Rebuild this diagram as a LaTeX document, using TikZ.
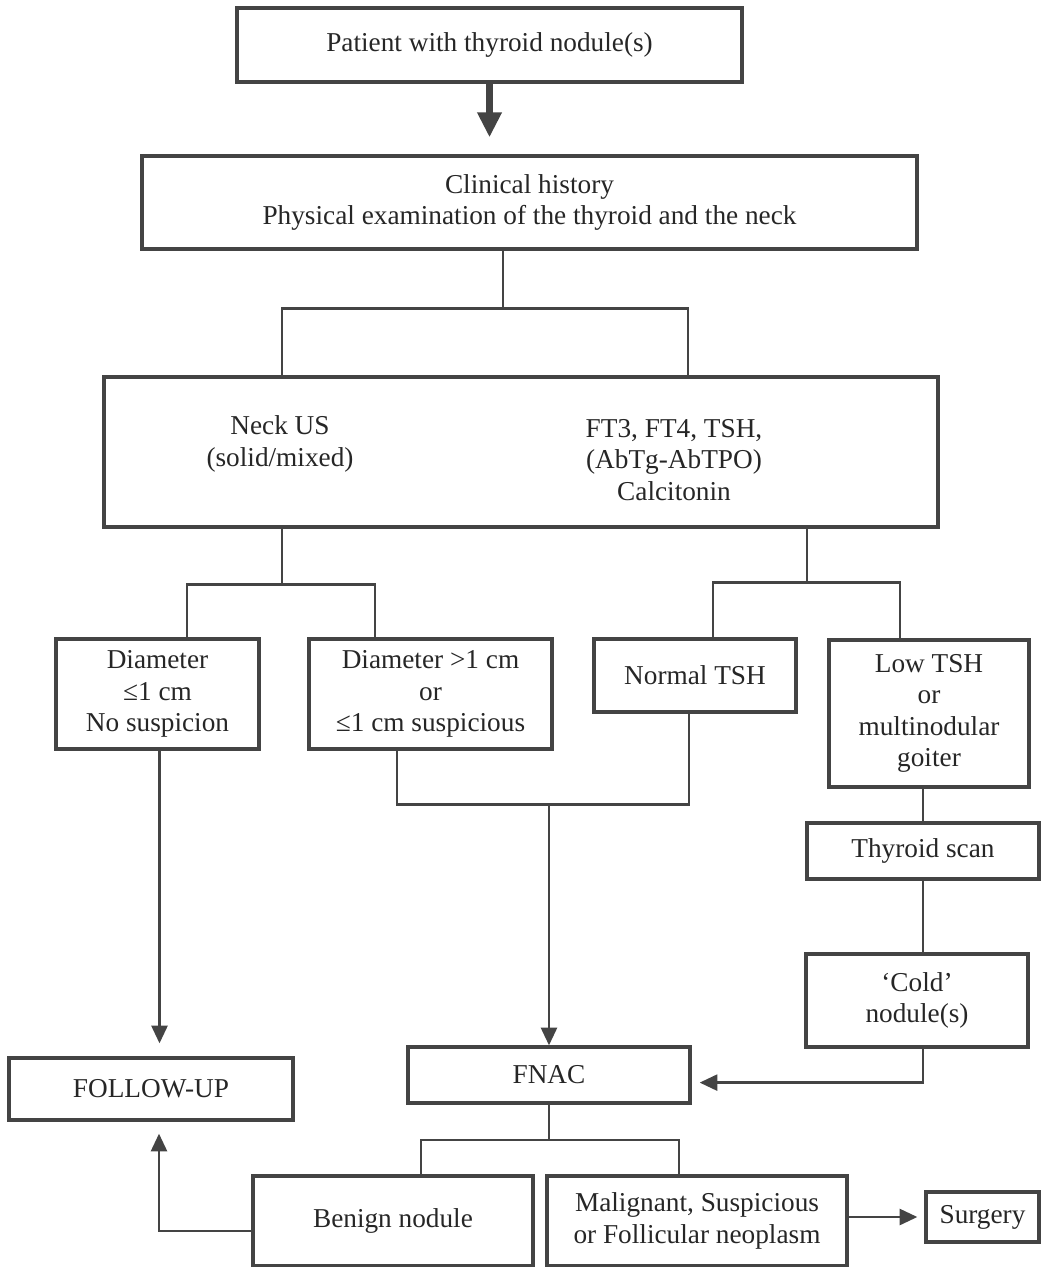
\documentclass[tikz,border=0pt]{standalone}
\usepackage{fontspec}
\setmainfont{Liberation Serif}
\usetikzlibrary{positioning,arrows.meta}
\definecolor{ink}{HTML}{444444}
\definecolor{txt}{HTML}{262626}

\begin{document}
\begin{tikzpicture}[blk/.style={draw=ink,line width=2.4pt,inner sep=0pt,align=center,text=txt,font=\fontsize{19.4}{22.4}\selectfont},
	lbl/.style={align=center,text=txt,inner sep=0pt,font=\fontsize{19.4}{22.4}\selectfont},
	link/.style={draw=ink,line width=1.7pt},
	arr/.style={link,-{Triangle[length=0.44cm,width=0.4cm]}}]

	\useasboundingbox (0,0) rectangle (26,-31.675);

	\node[blk,minimum width=12.625cm,minimum height=1.85cm] (patient) at (12.2375,-1.125) {Patient with thyroid nodule(s)};
	\node[blk,minimum width=19.375cm,minimum height=2.325cm] (history) [below of=patient, node distance=3.9375cm, xshift=1cm] {Clinical history\\Physical examination of the thyroid and the neck};
	\draw[link,line width=5pt,-{Triangle[length=0.625cm,width=0.58cm]},shorten >=0.425cm] (patient.south) -- (patient.south |- history.north);

	\node[blk,minimum width=20.85cm,minimum height=3.75cm] (neck) [below of=history, node distance=6.2375cm, xshift=-0.2125cm] {};
	\node[lbl] (us) at ([xshift=-6.025cm,yshift=0.2cm]neck.center) {Neck US\\(solid/mixed)};
	\node[lbl] (lab) at ([xshift=3.825cm,yshift=-0.2cm]neck.center) {FT3, FT4, TSH,\\(AbTg-AbTPO)\\Calcitonin};
	\path ([xshift=-0.6625cm,yshift=-1.45cm]history.south) coordinate (split);
	\draw[link] ([xshift=-0.6625cm]history.south) -- (split);
	\draw[link] ([xshift=-5.975cm]neck.north) |- (split) -| ([xshift=4.175cm]neck.north);

	\node[blk,minimum width=5.075cm,minimum height=2.75cm] (small) [below of=neck, node distance=6.05cm, xshift=-9.0875cm] {Diameter\\≤1 cm\\No suspicion};
	\node[blk,minimum width=6.075cm,minimum height=2.75cm] (large) [right of=small, node distance=6.825cm] {Diameter >1 cm\\or\\≤1 cm suspicious};
	\node[blk,minimum width=5.05cm,minimum height=1.825cm] (normal) [right of=large, node distance=6.6125cm, yshift=0.4625cm] {Normal TSH};
	\node[blk,minimum width=5cm,minimum height=3.675cm] (low) [right of=normal, node distance=5.85cm, yshift=-0.95cm] {Low TSH\\or\\multinodular\\goiter};
	\draw[link] ([xshift=-5.975cm]neck.south) -- ++(0,-1.4) coordinate (usfork);
	\draw[link] ([xshift=0.7375cm]small.north) |- (usfork) -| ([xshift=-1.3875cm]large.north);
	\draw[link] ([xshift=7.15cm]neck.south) -- ++(0,-1.35) coordinate (labfork);
	\draw[link] ([xshift=0.45cm]normal.north) |- (labfork) -| ([xshift=-0.725cm]low.north);

	\node[blk,minimum width=5.8cm,minimum height=1.4cm] (scan) [below of=low, node distance=3.4375cm, xshift=-0.15cm] {Thyroid scan};
	\node[blk,minimum width=5.55cm,minimum height=2.325cm] (cold) [below of=scan, node distance=3.7375cm, xshift=-0.15cm] {`Cold'\\nodule(s)};
	\draw[link] (scan.north |- low.south) -- (scan.north);
	\draw[link] (scan.south) -- (scan.south |- cold.north);

	\node[blk,minimum width=7.05cm,minimum height=1.4cm] (fnac) [below of=large, node distance=9.525cm, xshift=2.9625cm] {FNAC};
	\node[blk,minimum width=7.1cm,minimum height=1.55cm] (follow) [below of=small, node distance=9.875cm, xshift=-0.1625cm] {FOLLOW-UP};
	\path ([yshift=6.025cm]fnac.north) coordinate (merge);
	\draw[link] ([xshift=-0.8375cm]large.south) |- (merge) -| ([xshift=-0.15cm]normal.south);
	\draw[arr] (merge) -- (fnac.north);
	\draw[arr,shorten >=0.325cm] ([xshift=0.05cm]small.south) -- ([xshift=0.05cm]small.south |- follow.north);
	\draw[arr,shorten >=0.2cm] ([xshift=0.15cm]cold.south) |- ([yshift=-0.19cm]fnac.east);

	\node[blk,minimum width=7cm,minimum height=2.25cm] (benign) [below of=fnac, node distance=3.65cm, xshift=-3.9cm] {Benign nodule};
	\node[blk,minimum width=7.5cm,minimum height=2.25cm] (malignant) [right of=benign, node distance=7.6cm] {Malignant, Suspicious\\or Follicular neoplasm};
	\node[blk,minimum width=2.825cm,minimum height=1.25cm] (surgery) [right of=malignant, node distance=7.1375cm, yshift=0.1cm] {Surgery};
	\draw[link] (fnac.south) -- ++(0,-0.875) coordinate (fnacfork);
	\draw[link] ([xshift=0.7cm]benign.north) |- (fnacfork) -| ([xshift=-0.45cm]malignant.north);
	\draw[arr,shorten >=0.3cm] ([yshift=-0.25cm]benign.west) -| ([xshift=0.2cm]follow.south);
	\draw[arr,shorten >=0.175cm] (malignant.east |- surgery.west) -- (surgery.west);

\end{tikzpicture}
\end{document}
